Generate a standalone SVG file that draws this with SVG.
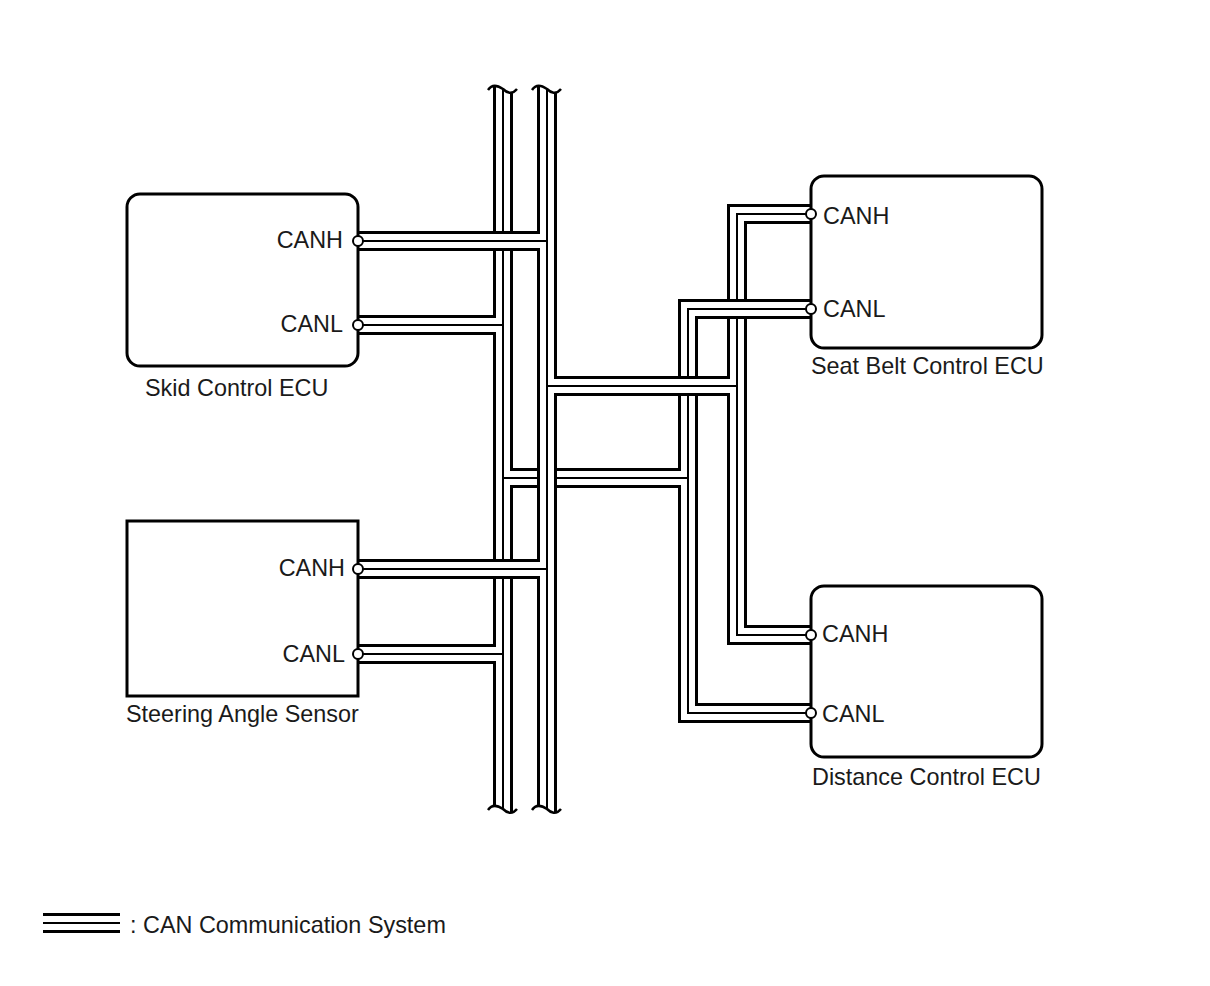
<svg xmlns="http://www.w3.org/2000/svg" width="1210" height="986" viewBox="0 0 1210 986">
<style>
.k1{fill:none;stroke:#000;stroke-width:20;stroke-linejoin:miter;stroke-linecap:butt}
.k2{fill:none;stroke:#fff;stroke-width:14;stroke-linejoin:miter;stroke-linecap:butt}
.k3{fill:none;stroke:#000;stroke-width:2;stroke-linejoin:miter;stroke-linecap:butt}
.box{fill:none;stroke:#000;stroke-width:3}
.term{fill:#fff;stroke:#000;stroke-width:2}
.brk{fill:none;stroke:#000;stroke-width:2.5}
.mask{fill:#fff;stroke:none}
text{font-family:"Liberation Sans",Arial,sans-serif;font-size:23.4px;fill:#1a1a1a}
</style>
<defs>
<path id="canl" d="M503,84 V814 M358,325 H503 M358,654 H503 M503,478 H688 M811,309 H688 V713 H811"/>
<path id="canh" d="M547,84 V814 M358,241 H547 M358,569 H547 M547,386 H737 M811,214 H737 V635 H811"/>
<path id="over" d="M715,309 H760"/>
<path id="leg" d="M43,923 H120"/>
</defs>
<rect width="1210" height="986" fill="#fff"/>
<g id="connectors">
<g id="can-low">
<use href="#canl" class="k1"/>
<use href="#canl" class="k2"/>
<use href="#canl" class="k3"/>
</g>
<g id="can-high">
<use href="#canh" class="k1"/>
<use href="#canh" class="k2"/>
<use href="#canh" class="k3"/>
</g>
<g id="can-low-crossing">
<use href="#over" class="k1"/>
<use href="#over" class="k2"/>
<use href="#over" class="k3"/>
</g>
<g id="bus-breaks">
<path class="mask" d="M486,78 V90 C491,83 497,85 503,89 C507,93 512,95 518,89 V78 Z"/>
<path class="brk" d="M488,90 C492,84 497,85 503,89 C507,93 512,95 517,89"/>
<path class="mask" d="M530,78 V90 C535,83 541,85 547,89 C551,93 556,95 562,89 V78 Z"/>
<path class="brk" d="M532,90 C536,84 541,85 547,89 C551,93 556,95 561,89"/>
<path class="mask" d="M486,820 V810 C491,803 497,805 503,809 C507,813 512,815 518,809 V820 Z"/>
<path class="brk" d="M488,810 C492,804 497,805 503,809 C507,813 512,815 517,809"/>
<path class="mask" d="M530,820 V810 C535,803 541,805 547,809 C551,813 556,815 562,809 V820 Z"/>
<path class="brk" d="M532,810 C536,804 541,805 547,809 C551,813 556,815 561,809"/>
</g>
</g>
<g id="skid-control-ecu">
<rect class="box" x="127" y="194" width="231" height="172" rx="13"/>
<circle class="term" cx="358" cy="241" r="5"/>
<circle class="term" cx="358" cy="325" r="5"/>
<text x="343" y="248" text-anchor="end">CANH</text>
<text x="343" y="332" text-anchor="end">CANL</text>
<text x="145" y="396">Skid Control ECU</text>
</g>
<g id="steering-angle-sensor">
<rect class="box" x="127" y="521" width="231" height="175"/>
<circle class="term" cx="358" cy="569" r="5"/>
<circle class="term" cx="358" cy="654" r="5"/>
<text x="345" y="576" text-anchor="end">CANH</text>
<text x="345" y="662" text-anchor="end">CANL</text>
<text x="126" y="722">Steering Angle Sensor</text>
</g>
<g id="seat-belt-control-ecu">
<rect class="box" x="811" y="176" width="231" height="172" rx="13"/>
<circle class="term" cx="811" cy="214" r="5"/>
<circle class="term" cx="811" cy="309" r="5"/>
<text x="823" y="224">CANH</text>
<text x="823" y="317">CANL</text>
<text x="811" y="374">Seat Belt Control ECU</text>
</g>
<g id="distance-control-ecu">
<rect class="box" x="811" y="586" width="231" height="171" rx="13"/>
<circle class="term" cx="811" cy="635" r="5"/>
<circle class="term" cx="811" cy="713" r="5"/>
<text x="822" y="642">CANH</text>
<text x="822" y="722">CANL</text>
<text x="812" y="785">Distance Control ECU</text>
</g>
<g id="legend">
<use href="#leg" class="k1"/>
<use href="#leg" class="k2"/>
<use href="#leg" class="k3"/>
<text x="130" y="933">: CAN Communication System</text>
</g>
</svg>
